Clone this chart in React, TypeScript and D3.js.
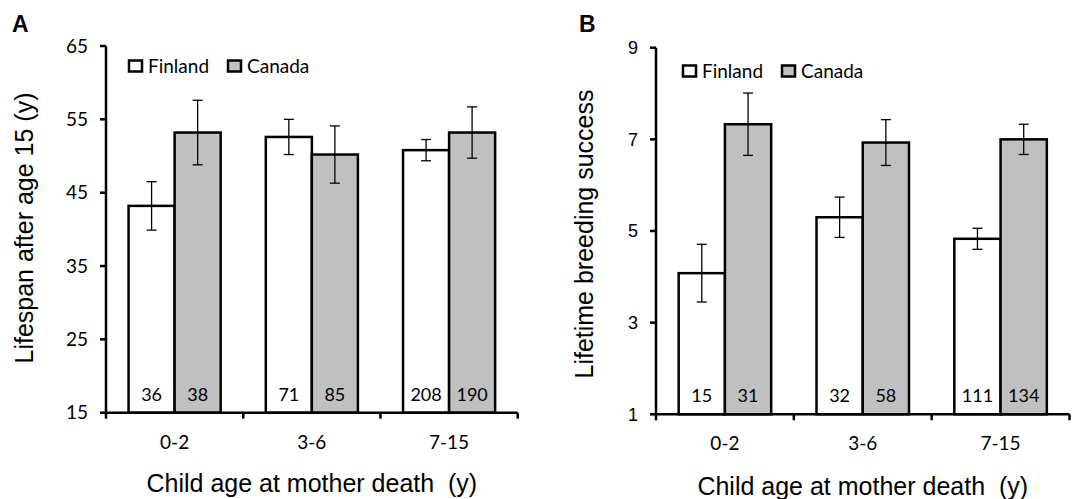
import React from "react";
import * as d3 from "d3";

const categories = ["0-2", "3-6", "7-15"];
const series = ["Finland", "Canada"];

const lifespanFinland = [43.2, 52.6, 50.8];
const lifespanFinlandErr = [3.3, 2.4, 1.45];
const lifespanCanada = [53.2, 50.2, 53.2];
const lifespanCanadaErr = [4.4, 3.9, 3.5];
const lifespanNFinland = ["36", "71", "208"];
const lifespanNCanada = ["38", "85", "190"];
const lifespanTicks = [15, 25, 35, 45, 55, 65];

const lbsFinland = [4.08, 5.3, 4.83];
const lbsFinlandErr = [0.63, 0.44, 0.23];
const lbsCanada = [7.33, 6.93, 7.0];
const lbsCanadaErr = [0.68, 0.5, 0.33];
const lbsNFinland = ["15", "32", "111"];
const lbsNCanada = ["31", "58", "134"];
const lbsTicks = [1, 3, 5, 7, 9];

const fills: Record<string, string> = { Finland: "#ffffff", Canada: "#c0c0c0" };
const ARIAL = "'Liberation Sans', Arial, sans-serif";
const CAL = "Lato, 'Open Sans', sans-serif";

type PanelProps = {
  letter: string;
  letterX: number;
  left: number;
  right: number;
  top: number;
  bottom: number;
  domain: [number, number];
  ticks: number[];
  fin: number[];
  finErr: number[];
  can: number[];
  canErr: number[];
  nFin: string[];
  nCan: string[];
  yTitle: string;
  yTitleX: number;
  yTitleY: number;
  tickFont: string;
  tickSize: number;
  legendX: number;
  legendY: number;
  xLabelY: number;
  xTitleY: number;
};

function Panel(p: PanelProps) {
  const y = d3.scaleLinear().domain(p.domain).range([p.bottom, p.top]);
  const x0 = d3.scaleBand<string>().domain(categories).range([p.left, p.right]).padding(0);
  const x1 = d3
    .scaleBand<string>()
    .domain(series)
    .range([0, x0.bandwidth()])
    .paddingInner(0)
    .paddingOuter(0.49);
  const vals: Record<string, number[]> = { Finland: p.fin, Canada: p.can };
  const errs: Record<string, number[]> = { Finland: p.finErr, Canada: p.canErr };
  const ns: Record<string, string[]> = { Finland: p.nFin, Canada: p.nCan };
  const boundaries = [...categories.map((c) => x0(c)!), p.right];

  return (
    <g>
      <text x={p.letterX} y={32} fontFamily={ARIAL} fontWeight="bold" fontSize={23}>
        {p.letter}
      </text>
      {categories.map((c, i) =>
        series.map((s) => {
          const bx = x0(c)! + x1(s)!;
          const v = vals[s][i];
          const e = errs[s][i];
          const cx = bx + x1.bandwidth() / 2;
          return (
            <g key={c + s}>
              <rect
                x={bx}
                y={y(v)}
                width={x1.bandwidth()}
                height={y(p.domain[0]) - y(v)}
                fill={fills[s]}
                stroke="#000"
                strokeWidth={2.5}
              />
              <line x1={cx} x2={cx} y1={y(v + e)} y2={y(v - e)} stroke="#000" strokeWidth={1.3} />
              <line x1={cx - 5} x2={cx + 5} y1={y(v + e)} y2={y(v + e)} stroke="#000" strokeWidth={1.3} />
              <line x1={cx - 5} x2={cx + 5} y1={y(v - e)} y2={y(v - e)} stroke="#000" strokeWidth={1.3} />
              <text x={cx} y={p.bottom - 12} textAnchor="middle" fontFamily={CAL} fontSize={18}>
                {ns[s][i]}
              </text>
            </g>
          );
        })
      )}
      {/* y axis */}
      <line x1={p.left} x2={p.left} y1={p.top} y2={p.bottom} stroke="#000" strokeWidth={2.5} />
      {p.ticks.map((t) => (
        <g key={t}>
          <line x1={p.left - 6} x2={p.left} y1={y(t)} y2={y(t)} stroke="#000" strokeWidth={2.5} />
          <text
            x={p.left - 18}
            y={y(t)}
            dy="0.35em"
            textAnchor="end"
            fontFamily={p.tickFont}
            fontSize={p.tickSize}
          >
            {t}
          </text>
        </g>
      ))}
      {/* x axis */}
      <line x1={p.left} x2={p.right} y1={p.bottom} y2={p.bottom} stroke="#000" strokeWidth={2.5} />
      {boundaries.map((b, i) => (
        <line key={i} x1={b} x2={b} y1={p.bottom} y2={p.bottom + 6} stroke="#000" strokeWidth={2.5} />
      ))}
      {categories.map((c) => (
        <text
          key={c}
          x={x0(c)! + x0.bandwidth() / 2}
          y={p.xLabelY}
          dy="0.35em"
          textAnchor="middle"
          fontFamily={CAL}
          fontSize={19}
        >
          {c}
        </text>
      ))}
      <text
        x={(p.left + p.right) / 2}
        y={p.xTitleY}
        textAnchor="middle"
        fontFamily={ARIAL}
        fontSize={25}
        style={{ whiteSpace: "pre" }}
      >
        {"Child age at mother death  (y)"}
      </text>
      <text
        transform={`translate(${p.yTitleX},${p.yTitleY}) rotate(-90)`}
        textAnchor="middle"
        dy="0.35em"
        fontFamily={ARIAL}
        fontSize={25}
      >
        {p.yTitle}
      </text>
      {/* legend */}
      {series.map((s, i) => {
        const lx = p.legendX + i * 99;
        return (
          <g key={s}>
            <rect
              x={lx}
              y={p.legendY - 5.5}
              width={13}
              height={11}
              fill={fills[s]}
              stroke="#000"
              strokeWidth={2.5}
            />
            <text x={lx + 19} y={p.legendY} dy="0.35em" fontFamily={CAL} fontSize={19}>
              {s}
            </text>
          </g>
        );
      })}
    </g>
  );
}

export default function App() {
  return (
    <svg
      width={1079}
      height={499}
      style={{ position: "absolute", left: 0, top: 0, background: "#fff" }}
    >
      <rect width={1079} height={499} fill="#fff" />
      <Panel
        letter="A"
        letterX={12}
        left={106}
        right={517.7}
        top={46}
        bottom={412.7}
        domain={[15, 65]}
        ticks={lifespanTicks}
        fin={lifespanFinland}
        finErr={lifespanFinlandErr}
        can={lifespanCanada}
        canErr={lifespanCanadaErr}
        nFin={lifespanNFinland}
        nCan={lifespanNCanada}
        yTitle="Lifespan after age 15 (y)"
        yTitleX={24.5}
        yTitleY={228}
        tickFont={CAL}
        tickSize={19}
        legendX={129}
        legendY={66}
        xLabelY={442}
        xTitleY={492}
      />
      <Panel
        letter="B"
        letterX={579}
        left={656}
        right={1069.5}
        top={47.7}
        bottom={414.3}
        domain={[1, 9]}
        ticks={lbsTicks}
        fin={lbsFinland}
        finErr={lbsFinlandErr}
        can={lbsCanada}
        canErr={lbsCanadaErr}
        nFin={lbsNFinland}
        nCan={lbsNCanada}
        yTitle="Lifetime breeding success"
        yTitleX={584.5}
        yTitleY={234}
        tickFont={ARIAL}
        tickSize={18}
        legendX={683}
        legendY={71}
        xLabelY={443}
        xTitleY={495}
      />
    </svg>
  );
}
